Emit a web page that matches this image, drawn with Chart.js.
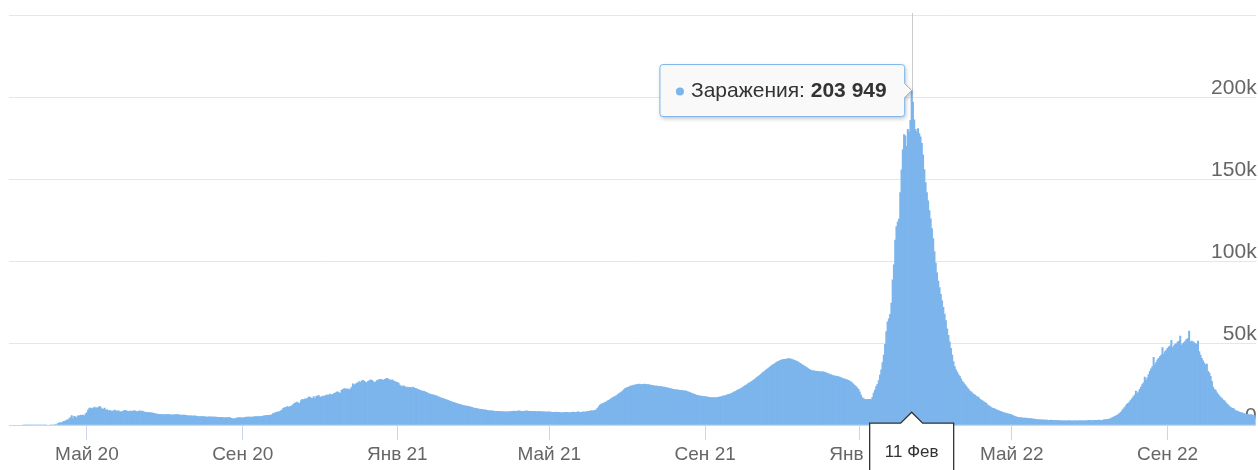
<!DOCTYPE html>
<html lang="ru">
<head>
<meta charset="utf-8">
<title>Заражения</title>
<script src="https://cdn.jsdelivr.net/npm/chart.js@4.4.1/dist/chart.umd.min.js"></script>
<style>
  html, body { margin: 0; padding: 0; background: #fff; }
  #wrap { width: 1258px; height: 470px; position: relative; }
</style>
</head>
<body>
<div id="wrap"><canvas id="casesChart"></canvas></div>
<script>
// daily series starts on 1 March 2020
const startYear = 2020, startMonth = 2, startDay = 1;
const monthNames = ["Янв", "Фев", "Мар", "Апр", "Май", "Июн", "Июл", "Авг", "Сен", "Окт", "Ноя", "Дек"];
const axisMonths = [0, 4, 8];          // months that get a label on the x axis
const yTicks = [0, 50000, 100000, 150000, 200000, 250000];
const seriesName = "Заражения";
const highlightDay = "2022-02-11";

const cases2020 = [
  0,0,0,0,0,0,0,0,0,0,0,6,6,14,4,30,20,33,52,54,53,71,57,71,120,130,140,150,170,190,260, // мар
  320,360,380,400,430,520,640,1175,1459,1786,1667,2186,2558,2774,3388,3448,4070,4785,6060,4268,5642,5236,4774,5849,5966,6361,6198,6411,5841,7099, // апр
  7933,9623,10633,10581,10102,10559,11231,10699,10817,11012,11656,10899,10028,9974,10598,9200,9709,8926,9263,8764,8849,8894,9434,8599,8946,8915,8338,8371,8572,8952,9268, // май
  9035,8863,8536,8831,8726,8855,8984,8985,8595,8404,8779,8987,8706,8835,8246,8248,7843,7972,7790,7889,7728,7600,7425,7176,7113,6800,6852,6791,6719,6693, // июн
  6556,6760,6718,6632,6736,6611,6368,6562,6509,6635,6611,6615,6537,6248,6422,6428,6406,6234,6109,5940,5842,5862,5848,5811,5871,5765,5635,5475,5395,5509,5482, // июл
  5427,5462,5159,5204,5241,5267,5212,5241,5189,5118,5102,5057,5065,5061,4969,4921,4839,4748,4828,4870,4891,4852,4385,4196,4076,4211,4529,4741,4780,4793,4752, // авг
  4729,4729,4995,5110,5205,5195,5185,5099,5172,5363,5504,5449,5488,5509,5529,5670,5762,5905,6065,6148,6196,6215,6431,6595,7212,7523,7867,8135,8232,8481, // сен
  8945,9412,10499,10888,10888,11615,11115,11493,11680,12126,12846,13634,13868,14231,13754,13592,15150,15982,15700,16319,15971,16521,17340,17347,16710,16550,17717,16202,17717,18140,18283, // окт
  17200,17500,17900,17800,18100,18500,18600,18500,19200,18600,19000,19500,19800,20400,20500,20000,19800,21400,22000,22300,22500,22100,22400,21600,22400,23500,25400,24600,25200,25900, // ноя
  26100,26800,26400,27200,27600,27000,26300,26000,26900,27400,27800,27500,26800,26200,26700,27400,27900,28000,28200,27800,27600,28100,28400,28700,28300,27900,27500,27800,27300,26800,26500 // дек
];

const cases2021 = [
  26300,25800,24600,23900,24000,24200,23700,23200,23500,23100,23300,22900,23400,23100,22700,22500,22000,21700,21500,21100,21000,20800,20600,20300,19800,19300,19100,18900,18700,18500,18300, // янв
  18100,17600,17300,17000,16700,16500,16200,15900,15700,15400,15100,14800,14500,14200,14000,13700,13400,13200,12900,12700,12500,12300,12100,11900,11800,11600,11500,11300, // фев
  11100,10700,10600,10500,10300,10100,10000,9900,9800,9600,9500,9400,9200,9100,9000,8900,8900,8800,8700,8700,8600,8600,8500,8500,8400,8500,8400,8300,8400,8500,8400, // мар
  8600,8700,8800,8700,8600,8800,8900,8800,8700,8600,8700,8800,8900,8800,8700,8600,8600,8700,8500,8600,8500,8400,8600,8500,8400,8300,8400,8300,8200,8300, // апр
  8300,8200,8100,8100,8000,8200,8100,8000,8100,7900,7800,7900,8000,8100,8000,7900,7800,8000,8100,8200,8100,8000,8200,8300,8100,8100,8200,8300,8200,8400,8500, // май
  8700,8800,8900,9000,9100,9300,9600,10500,11500,12500,13000,13400,13700,14100,14500,15000,15400,16000,16500,17000,17400,17800,18300,18800,19400,20000,20500,21200,21900,22600, // июн
  23000,23300,23600,24000,24200,24400,24600,24800,25000,25100,25200,25100,25000,25100,25200,25100,25000,24900,24800,24600,24500,24400,24200,24100,24000,23900,23800,23700,23600,23500,23400, // июл
  23200,23000,22800,22600,22400,22200,22000,21900,21800,21700,21600,21500,21400,21300,21200,21100,21000,20700,20400,20100,19800,19500,19200,18900,18600,18400,18200,18000,17900,17800,17700, // авг
  17600,17500,17400,17200,17100,17000,17000,16900,17000,17100,17200,17300,17500,17700,17900,18100,18300,18500,18800,19000,19300,19700,20100,20500,20900,21300,21700,22100,22500,23000, // сен
  23400,24000,24500,25000,25500,26000,26500,27000,27600,28200,28800,29400,30000,30600,31200,32000,32600,33200,33800,34400,35000,35600,36200,36800,37300,37800,38300,38800,39200,39600,39900, // окт
  40100,40300,40400,40500,40600,40800,40700,40500,40200,39900,39600,39300,38900,38400,37900,37400,36900,36400,35900,35400,34900,34300,33900,33600,33400,33300,33200,33100,33000,32900, // ноя
  32800,32800,32700,32500,32300,32000,31700,31400,31100,30800,30500,30300,30100,30000,29800,29500,29200,28900,28600,28300,28100,27800,27500,27100,26600,26000,25300,24500,23700,23000,22000 // дек
];

const cases2022 = [
  20500,18500,17000,16500,16000,15800,16000,15900,16000,15800,17200,19800,21600,23800,25100,27400,30700,33900,38400,43000,49500,57200,63200,65100,67800,74700,88800,98000,113100,121200,124000, // янв
  125800,141900,155800,168200,177300,176500,170200,180500,179000,186000,203949,197100,186300,180500,179200,181000,178000,176000,172000,165000,156000,148000,142000,137000,131000,126000,120000,114000, // фев
  106000,99000,93000,88000,84000,80000,76000,72000,68000,64000,59000,55000,51000,47000,43000,39000,36000,34000,32500,31000,30000,28500,27000,26000,25000,24000,23000,22000,21000,20500,19800, // мар
  19000,18500,18000,17500,17000,16000,15500,15000,14500,14000,13500,12500,12000,11500,11000,10500,10300,10000,9600,9300,9000,8700,8400,8100,7800,7600,7400,7200,7000,6800, // апр
  6500,6000,5800,5400,5100,5000,4900,4800,4700,4600,4500,4500,4400,4400,4300,4200,4100,4000,3900,3800,3700,3600,3500,3500,3400,3400,3300,3300,3300,3200,3200, // май
  3300,3200,3200,3100,3000,3100,3000,2900,3000,2900,2900,2800,2900,2900,3000,2900,2900,2800,2800,2900,2900,2800,2900,3000,2900,2900,2800,2900,3000,3000, // июн
  3100,3200,3000,2900,3100,3200,3100,3200,3300,3200,3000,3300,3500,3600,3700,3800,4000,4300,4700,5000,5400,5800,6200,6700,7300,8000,9000,10000,11000,12000,13000, // июл
  13500,14500,15500,16500,17500,18500,21000,19500,20500,22000,23500,25000,26000,29500,27500,29000,31000,33000,34500,36000,41500,37000,38500,40000,41000,42000,43000,47500,43500,45000,46000, // авг
  47000,48000,48500,52000,47500,48500,49500,50000,51000,51500,54500,49000,50000,50500,51500,52500,53000,57600,51000,51500,51000,50500,50000,49500,51500,45000,43000,41000,39500,38000, // сен
  37000,37500,33000,32000,30000,27000,23500,22000,21500,20000,19000,18000,17000,16500,15500,15000,14000,13000,12500,11500,11000,10500,10500,9500,9000,8800,8500,8000,7800,7800,7300, // окт
  7200,7000,6800,6600,6500,6600,6300,6200,6000 // ноя
];

const allCases = cases2020.concat(cases2021, cases2022);

function dayOf(i) {
    return new Date(startYear, startMonth, startDay + i);
}

function pad(n) {
    return n < 10 ? "0" + n : "" + n;
}

const dayLabels = allCases.map((_, i) => {
    const d = dayOf(i);
    return d.getFullYear() + "-" + pad(d.getMonth() + 1) + "-" + pad(d.getDate());
});
const highlightIndex = dayLabels.indexOf(highlightDay);

function formatValue(v) {
    return String(v).replace(/\B(?=(\d{3})+(?!\d))/g, " ");
}

function axisLabel(index) {
    const d = dayOf(index);
    if (d.getDate() === 1 && axisMonths.includes(d.getMonth())) {
        return monthNames[d.getMonth()] + " " + String(d.getFullYear()).slice(2);
    }
    return "";
}

const fontFamily = '"Liberation Sans", Arial, Helvetica, sans-serif';
Chart.defaults.font.family = fontFamily;

// crosshair behind the bars, tooltip and date flag on top
const highlightPlugin = {
    id: "highlight",
    beforeDatasetsDraw(chart) {
        const { ctx, chartArea, scales } = chart;
        const px = Math.round(scales.x.getPixelForValue(highlightIndex)) + 0.5;
        ctx.save();
        ctx.strokeStyle = "#cccccc";
        ctx.lineWidth = 1;
        ctx.beginPath();
        ctx.moveTo(px, chartArea.top - 2);
        ctx.lineTo(px, chartArea.bottom);
        ctx.stroke();
        ctx.restore();
    },
    afterDraw(chart) {
        const { ctx, chartArea, scales } = chart;
        const value = allCases[highlightIndex];
        const px = scales.x.getPixelForValue(highlightIndex);
        const py = scales.y.getPixelForValue(value);

        // tooltip
        const nameText = seriesName + ": ";
        const valueText = formatValue(value);
        ctx.save();
        ctx.font = "21px " + fontFamily;
        const w1 = ctx.measureText(nameText).width;
        ctx.font = "bold 21px " + fontFamily;
        const w2 = ctx.measureText(valueText).width;
        const boxH = 52, r = 3, caret = 7;
        const right = px - caret;
        const left = right - (31 + w1 + w2 + 18);
        const top = py - boxH / 2, bottom = py + boxH / 2;

        ctx.beginPath();
        ctx.moveTo(left + r, top);
        ctx.lineTo(right - r, top);
        ctx.quadraticCurveTo(right, top, right, top + r);
        ctx.lineTo(right, py - caret);
        ctx.lineTo(px, py);
        ctx.lineTo(right, py + caret);
        ctx.lineTo(right, bottom - r);
        ctx.quadraticCurveTo(right, bottom, right - r, bottom);
        ctx.lineTo(left + r, bottom);
        ctx.quadraticCurveTo(left, bottom, left, bottom - r);
        ctx.lineTo(left, top + r);
        ctx.quadraticCurveTo(left, top, left + r, top);
        ctx.closePath();
        ctx.shadowColor = "rgba(0,0,0,0.25)";
        ctx.shadowBlur = 4;
        ctx.shadowOffsetX = 1;
        ctx.shadowOffsetY = 2;
        ctx.fillStyle = "#f9f9f9";
        ctx.fill();
        ctx.shadowColor = "transparent";
        ctx.strokeStyle = "#7cb5ec";
        ctx.lineWidth = 1;
        ctx.stroke();

        ctx.fillStyle = "#7cb5ec";
        ctx.beginPath();
        ctx.arc(left + 20, py + 1, 4, 0, Math.PI * 2);
        ctx.fill();

        ctx.fillStyle = "#333333";
        ctx.textBaseline = "middle";
        ctx.textAlign = "left";
        ctx.font = "21px " + fontFamily;
        ctx.fillText(nameText, left + 31, py + 1);
        ctx.font = "bold 21px " + fontFamily;
        ctx.fillText(valueText, left + 31 + w1, py + 1);

        // date flag on the x axis
        const d = dayOf(highlightIndex);
        const flagText = d.getDate() + " " + monthNames[d.getMonth()];
        const fTop = chartArea.bottom - 2, fHalf = 42, fCaret = 11;
        ctx.beginPath();
        ctx.moveTo(px - fHalf, fTop);
        ctx.lineTo(px - fCaret, fTop);
        ctx.lineTo(px, fTop - fCaret);
        ctx.lineTo(px + fCaret, fTop);
        ctx.lineTo(px + fHalf, fTop);
        ctx.lineTo(px + fHalf, chart.height + 5);
        ctx.lineTo(px - fHalf, chart.height + 5);
        ctx.closePath();
        ctx.fillStyle = "#ffffff";
        ctx.fill();
        ctx.strokeStyle = "#333333";
        ctx.lineWidth = 1.3;
        ctx.stroke();
        ctx.fillStyle = "#333333";
        ctx.textAlign = "center";
        ctx.font = "17px " + fontFamily;
        ctx.fillText(flagText, px, fTop + 29);
        ctx.restore();
    }
};

const ctx = document.getElementById("casesChart");
new Chart(ctx, {
    type: "bar",
    data: {
        labels: dayLabels,
        datasets: [{
            label: seriesName,
            data: allCases,
            backgroundColor: "#7cb5ec",
            borderWidth: 0,
            inflateAmount: 0,
            barPercentage: 1.6,
            categoryPercentage: 1
        }]
    },
    options: {
        responsive: true,
        maintainAspectRatio: false,
        animation: false,
        events: [],
        devicePixelRatio: 1,
        layout: { padding: { top: 15, right: 0, left: 9, bottom: 1 } },
        plugins: {
            legend: { display: false },
            tooltip: { enabled: false }
        },
        scales: {
            x: {
                offset: true,
                grid: {
                    offset: false,
                    drawOnChartArea: false,
                    tickLength: 15,
                    color: (c) => (c.tick && c.tick.label) ? "#ccd6eb" : "rgba(0,0,0,0)"
                },
                border: { display: true, color: "#ccd6eb" },
                ticks: {
                    autoSkip: false,
                    maxRotation: 0,
                    minRotation: 0,
                    padding: 3,
                    color: "#666666",
                    font: { size: 19 },
                    callback: (value, index) => axisLabel(index)
                }
            },
            y: {
                position: "right",
                min: yTicks[0],
                max: yTicks[yTicks.length - 1],
                afterBuildTicks: (scale) => { scale.ticks = yTicks.map(v => ({ value: v })); },
                grid: { color: "#e6e6e6", drawTicks: false },
                border: { display: false },
                ticks: { display: false }
            },
            yLabels: {
                position: "right",
                z: 1,
                min: yTicks[0],
                max: yTicks[yTicks.length - 1],
                afterBuildTicks: (scale) => { scale.ticks = yTicks.map(v => ({ value: v })); },
                grid: { display: false, drawTicks: false },
                border: { display: false },
                ticks: {
                    mirror: true,
                    padding: 1,
                    labelOffset: -9,
                    color: "#666666",
                    font: { size: 21 },
                    callback: (v) => v === 0 ? "0" : (v === yTicks[yTicks.length - 1] ? "" : v / 1000 + "k")
                }
            }
        }
    },
    plugins: [highlightPlugin]
});
</script>
</body>
</html>
